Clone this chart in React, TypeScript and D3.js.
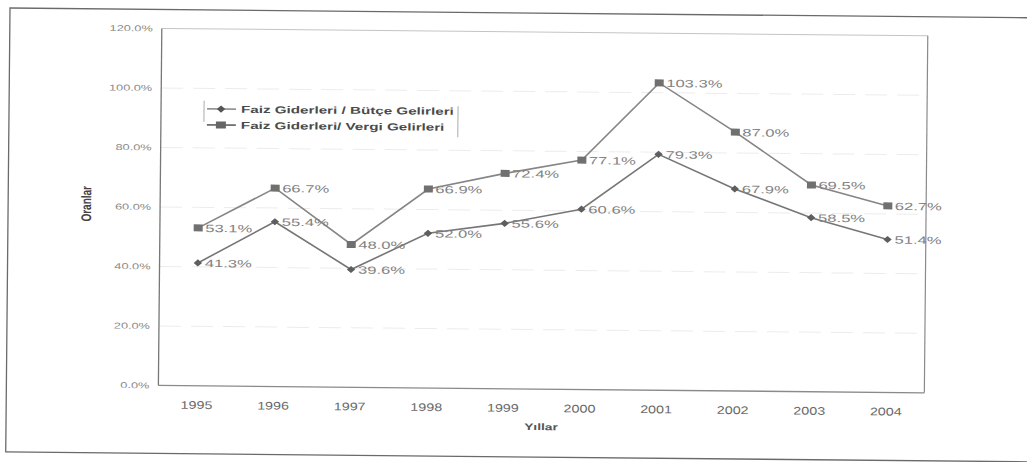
import React from "react";
import * as d3 from "d3";

const years = ["1995", "1996", "1997", "1998", "1999", "2000", "2001", "2002", "2003", "2004"];
const butceValues = [41.3, 55.4, 39.6, 52.0, 55.6, 60.6, 79.3, 67.9, 58.5, 51.4];
const vergiValues = [53.1, 66.7, 48.0, 66.9, 72.4, 77.1, 103.3, 87.0, 69.5, 62.7];
const yTicks = [0, 20, 40, 60, 80, 100, 120];
const seriesNames = ["Faiz Giderleri / Bütçe Gelirleri", "Faiz Giderleri/ Vergi Gelirleri"];

const W = 1027;
const H = 462;
const plot = { left: 162, right: 928, top: 27, bottom: 384 };
const FONT = "'Liberation Sans', Arial, sans-serif";

// Text drawn with a horizontal stretch (wide lettering)
function SText({
  x,
  y,
  sx = 1.45,
  children,
  ...rest
}: {
  x: number;
  y: number;
  sx?: number;
  children: React.ReactNode;
  [k: string]: any;
}) {
  return (
    <text transform={`translate(${x},${y}) scale(${sx},1)`} {...rest}>
      {children}
    </text>
  );
}

export default function App() {
  const x = d3.scaleBand<string>().domain(years).range([plot.left, plot.right]);
  const y = d3.scaleLinear().domain([0, 120]).range([plot.bottom, plot.top]);
  const cx = (yr: string) => (x(yr) ?? 0) + x.bandwidth() / 2;

  const line = d3
    .line<number>()
    .x((_, i) => cx(years[i]))
    .y((v) => y(v));

  const fmt = (v: number) => `${v.toFixed(1)}%`;
  const diamondPath = "M0,-3.6L4.2,0L0,3.6L-4.2,0Z";

  return (
    <svg
      width={W}
      height={H}
      style={{ position: "absolute", left: 0, top: 0, background: "#fff" }}
    >
      <rect width={W} height={H} fill="#fff" />
      <g transform="rotate(0.55 10 8)" fontFamily={FONT}>
        {/* outer chart frame */}
        <rect x={10} y={8} width={1040} height={444} fill="none" stroke="#6a6a6a" strokeWidth={1.3} />

        {/* gridlines */}
        {yTicks.slice(1).map((t) => (
          <line
            key={t}
            x1={plot.left}
            x2={plot.right}
            y1={y(t)}
            y2={y(t)}
            stroke={t === 120 ? "#c4c4c4" : "#ececec"}
            strokeWidth={1}
            strokeDasharray={t === 120 ? undefined : "22 10"}
          />
        ))}

        {/* axes */}
        <line x1={plot.left} x2={plot.left} y1={plot.top} y2={plot.bottom} stroke="#777" strokeWidth={1.3} />
        <line x1={plot.left} x2={plot.right} y1={plot.bottom} y2={plot.bottom} stroke="#8a8a8a" strokeWidth={1.3} />
        <line x1={plot.right} x2={plot.right} y1={plot.top} y2={plot.bottom} stroke="#8a8a8a" strokeWidth={1.2} />

        {/* y tick labels */}
        {yTicks.map((t) => (
          <SText
            key={t}
            x={plot.left - 9}
            y={y(t)}
            sx={1.5}
            dy="0.35em"
            textAnchor="end"
            fontSize={8.5}
            fill="#8a8a8a"
          >
            {fmt(t)}
          </SText>
        ))}

        {/* x tick labels */}
        {years.map((yr) => (
          <SText
            key={yr}
            x={cx(yr)}
            y={plot.bottom + 23}
            sx={1.3}
            textAnchor="middle"
            fontSize={11}
            fill="#6a6a6a"
          >
            {yr}
          </SText>
        ))}

        {/* axis titles */}
        <SText
          x={545}
          y={plot.bottom + 41}
          sx={1.45}
          textAnchor="middle"
          fontSize={9.5}
          fontWeight="bold"
          fill="#555"
        >
          Yıllar
        </SText>
        <text
          transform="translate(93, 203) rotate(-90) scale(1,1.4)"
          textAnchor="middle"
          fontSize={10}
          fontWeight="bold"
          fill="#444"
        >
          Oranlar
        </text>

        {/* series lines */}
        <path d={line(vergiValues) ?? ""} fill="none" stroke="#858585" strokeWidth={1.6} />
        <path d={line(butceValues) ?? ""} fill="none" stroke="#767676" strokeWidth={1.6} />

        {/* square markers + labels */}
        {vergiValues.map((v, i) => (
          <g key={`v${i}`}>
            <rect x={cx(years[i]) - 4.5} y={y(v) - 3.5} width={9} height={7} fill="#707070" />
            <SText x={cx(years[i]) + 7} y={y(v)} sx={1.58} dy="0.38em" fontSize={10.5} fill="#828282">
              {fmt(v)}
            </SText>
          </g>
        ))}

        {/* diamond markers + labels */}
        {butceValues.map((v, i) => (
          <g key={`b${i}`}>
            <path d={diamondPath} transform={`translate(${cx(years[i])},${y(v)})`} fill="#5e5e5e" />
            <SText x={cx(years[i]) + 7} y={y(v)} sx={1.58} dy="0.38em" fontSize={10.5} fill="#828282">
              {fmt(v)}
            </SText>
          </g>
        ))}

        {/* legend */}
        <g>
          <line x1={205} x2={205} y1={99} y2={120} stroke="#aaa" strokeWidth={1} />
          <line x1={459} x2={459} y1={102} y2={133} stroke="#aaa" strokeWidth={1} />
          <line x1={208} x2={237} y1={107} y2={107} stroke="#6e6e6e" strokeWidth={1.4} />
          <path d={diamondPath} transform="translate(222,107)" fill="#555" />
          <SText x={242} y={107} sx={1.52} dy="0.36em" fontSize={10} fontWeight="bold" fill="#4a4a4a">
            {seriesNames[0]}
          </SText>
          <line x1={208} x2={237} y1={123} y2={123} stroke="#6e6e6e" strokeWidth={1.8} />
          <rect x={217} y={119.5} width={10} height={7} fill="#666" />
          <SText x={242} y={123} sx={1.52} dy="0.36em" fontSize={10} fontWeight="bold" fill="#4a4a4a">
            {seriesNames[1]}
          </SText>
        </g>
      </g>
    </svg>
  );
}
